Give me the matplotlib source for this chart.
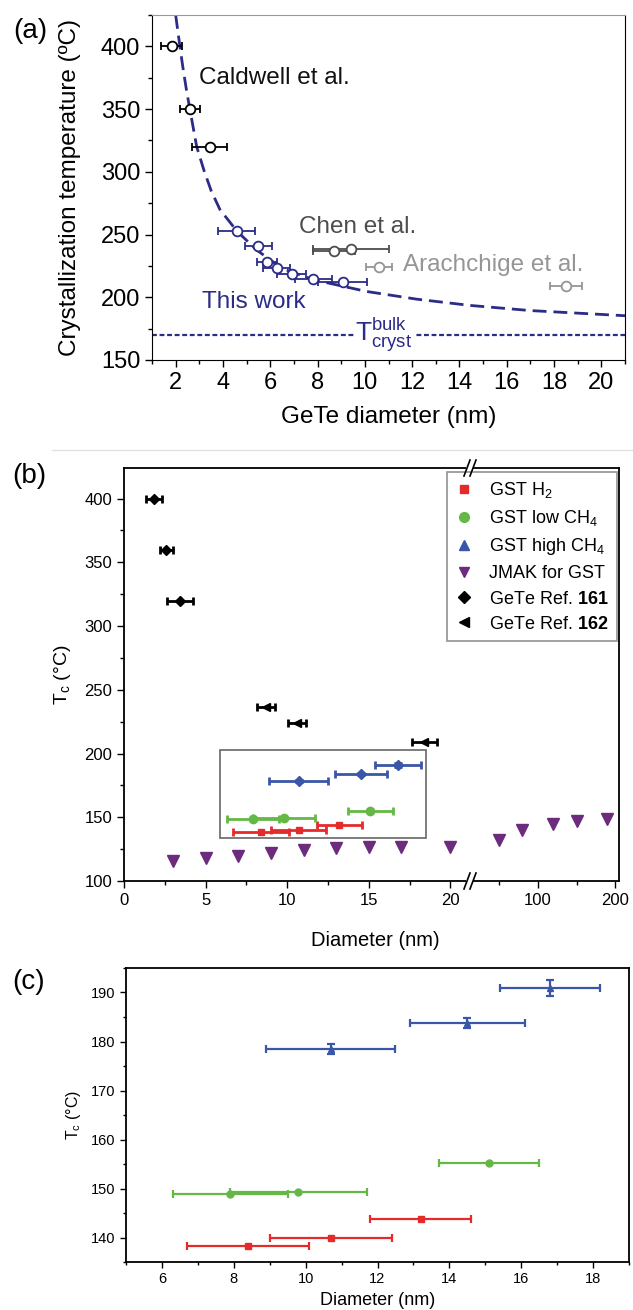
import numpy as np
import matplotlib
matplotlib.use("Agg")
import matplotlib.pyplot as plt
from matplotlib.lines import Line2D
from matplotlib.patches import Rectangle

plt.rcParams['font.family'] = ['Liberation Sans', 'DejaVu Sans']
plt.rcParams['mathtext.fontset'] = 'custom'
plt.rcParams['mathtext.rm'] = 'Liberation Sans'
plt.rcParams['mathtext.it'] = 'Liberation Sans:italic'
plt.rcParams['mathtext.bf'] = 'Liberation Sans:bold'

### Panel (a) data
cald_d = [1.83, 2.62, 3.45]
cald_T = [400, 350, 320]
cald_err = [0.45, 0.42, 0.74]
chen_d = [8.7, 9.4]
chen_T = [237, 238.5]
chen_err = [0.9, 1.6]
arach_d = [10.6, 18.5]
arach_T = [224.5, 209]
arach_err = [0.55, 0.67]
work_d = [4.58, 5.5, 5.85, 6.27, 6.9, 7.82, 9.06]
work_T = [253, 240.5, 228, 223, 218.7, 214.4, 212.5]
work_err = [0.78, 0.58, 0.43, 0.56, 0.63, 0.78, 1.02]
fit_d = [2.0, 2.18, 2.3, 2.45, 2.6, 2.89, 3.2, 3.5, 3.87, 4.58, 5.4, 6.5,
         7.82, 10.08, 12.19, 14.45, 17.0, 21.0]
fit_T = [425, 400, 384, 366, 350, 320, 301, 285, 270, 253, 238, 223,
         214, 204.6, 198.5, 193.5, 189.4, 185.3]
T_bulk = 170

### Panels (b) and (c) data
h2_d = [8.4, 10.7, 13.2]
h2_T = [138.3, 139.8, 143.8]
h2_err = [1.7, 1.7, 1.4]
low_d = [7.9, 9.8, 15.1]
low_T = [148.8, 149.2, 155.2]
low_err = [1.6, 1.9, 1.4]
high_d = [10.7, 14.5, 16.8]
high_T = [178.4, 183.8, 190.9]
high_err = [1.8, 1.6, 1.4]
high_Terr = [1.0, 1.0, 1.6]
jmak_d = [3, 5, 7, 9, 11, 13, 15, 17, 20, 50, 80, 120, 150, 190]
jmak_T = [116, 118, 120, 122, 124, 125.5, 126.5, 126.5, 126.5, 132, 140, 145, 147, 149]
ref161_d = [1.85, 2.6, 3.45]
ref161_T = [400, 360, 320]
ref161_err = [0.5, 0.4, 0.8]
ref162_d = [8.7, 10.6, 18.4]
ref162_T = [236.5, 224, 209]
ref162_err = [0.55, 0.55, 0.75]

navy = '#2b2b88'
red = '#e42b2b'
green = '#63b846'
blue = '#3a56a8'
purple = '#6c2b7c'

fig = plt.figure(figsize=(6.33, 13.1), dpi=100)
W, H = 633.0, 1310.0

def box(l, t, r, b):
    return [l / W, 1 - b / H, (r - l) / W, (b - t) / H]

# ---------------- (a)
ax = fig.add_axes(box(152, 15, 625, 360))
ax.plot(fit_d, fit_T, color=navy, lw=2, dashes=(5, 2.5), zorder=2)
ax.axhline(T_bulk, color=navy, lw=1.6, dashes=(2.2, 1.2), zorder=1)
ekw = dict(fmt='o', ms=7, mfc='white', mew=1.3, elinewidth=1.3, capsize=3, capthick=1.3, zorder=3)
ax.errorbar(cald_d, cald_T, xerr=cald_err, color='black', **ekw)
ax.errorbar(chen_d, chen_T, xerr=chen_err, color='#4d4d4d', **ekw)
ax.errorbar(arach_d, arach_T, xerr=arach_err, color='#959595', **ekw)
ax.errorbar(work_d, work_T, xerr=work_err, color=navy, **ekw)
ax.text(3.0, 375, 'Caldwell et al.', fontsize=17.5, color='#111111', va='center')
ax.text(7.2, 256, 'Chen et al.', fontsize=17.5, color='#4d4d4d', va='center')
ax.text(11.6, 226, 'Arachchige et al.', fontsize=17.5, color='#959595', va='center')
ax.text(3.1, 196, 'This work', fontsize=17.5, color=navy, va='center')
ax.text(10.8, 170, r'T$_{\rm cryst}^{\rm bulk}$', fontsize=19, color=navy, ha='center',
        va='center', bbox=dict(facecolor='white', edgecolor='none', pad=1), zorder=4)
ax.set_xlim(1, 21)
ax.set_ylim(150, 425)
ax.set_xticks(range(2, 21, 2))
ax.set_xticks(range(1, 22, 2), minor=True)
ax.set_yticks(range(150, 401, 50))
ax.set_yticks(range(175, 426, 50), minor=True)
ax.tick_params(labelsize=17, direction='out', length=5, width=1)
ax.tick_params(which='minor', direction='out', length=3, width=1)
ax.set_xlabel('GeTe diameter (nm)', fontsize=17.5, labelpad=9)
ax.set_ylabel('Crystallization temperature (ºC)', fontsize=17.5, labelpad=14)
ax.spines['top'].set_color('#999999')
fig.text(30 / W, 1 - 31 / H, '(a)', fontsize=20, ha='center', va='center')

# separator line
fig.add_artist(Line2D([52 / W, 1.0], [1 - 450 / H, 1 - 450 / H], color='#e2e2e2', lw=1))

# ---------------- (b)
axl = fig.add_axes(box(124, 468, 470, 881))
axr = fig.add_axes(box(470, 468, 619, 881))
bkw = dict(elinewidth=2, capsize=3, capthick=2, zorder=3)
axl.errorbar(h2_d, h2_T, xerr=h2_err, fmt='s', ms=5, color=red, **bkw)
axl.errorbar(low_d, low_T, xerr=low_err, fmt='o', ms=6, color=green, **bkw)
axl.errorbar(high_d, high_T, xerr=high_err, yerr=high_Terr, fmt='D', ms=5, color=blue, **bkw)
axl.errorbar(ref161_d, ref161_T, xerr=ref161_err, fmt='D', ms=5, color='black', **bkw)
axl.errorbar(ref162_d, ref162_T, xerr=ref162_err, fmt='<', ms=6, color='black', **bkw)
jd = np.array(jmak_d)
jT = np.array(jmak_T)
axl.plot(jd[jd <= 21], jT[jd <= 21], 'v', ms=9, color=purple, ls='none')
axr.plot(jd[jd > 21], jT[jd > 21], 'v', ms=9, color=purple, ls='none')
axl.add_patch(Rectangle((5.9, 133.5), 12.6, 69, fill=False, edgecolor='#666666', lw=1.2, zorder=2))
for a in (axl, axr):
    a.set_ylim(100, 424)
    a.tick_params(labelsize=12, direction='out', length=5, width=1)
    a.tick_params(which='minor', direction='out', length=3, width=1)
    for s in a.spines.values():
        s.set_linewidth(1.3)
axl.set_xlim(0, 21.2)
axl.set_xticks([0, 5, 10, 15, 20])
axl.set_xticks([2.5, 7.5, 12.5, 17.5], minor=True)
axl.set_yticks(range(100, 401, 50))
axl.set_yticks(range(125, 401, 50), minor=True)
axl.spines['right'].set_visible(False)
axr.set_xlim(12, 205)
axr.set_xticks([100, 200])
axr.set_xticks([50, 150], minor=True)
axr.set_yticks([])
axr.spines['left'].set_visible(False)
axl.set_ylabel(r'T$_{\rm c}$ (°C)', fontsize=14, labelpad=8)
fig.text(375 / W, 1 - 940 / H, 'Diameter (nm)', fontsize=14.5, ha='center', va='center')
fig.text(29 / W, 1 - 476 / H, '(b)', fontsize=20, ha='center', va='center')

# break marks
for yb in (468, 881):
    fig.add_artist(Rectangle(((466) / W, 1 - (yb + 2) / H), 7 / W, 4 / H,
                             facecolor='white', edgecolor='none', transform=fig.transFigure, zorder=6))
    for dx in (-3, 3):
        fig.add_artist(Line2D([(470 + dx - 3) / W, (470 + dx + 3) / W],
                              [1 - (yb + 8) / H, 1 - (yb - 8) / H],
                              color='black', lw=1.2, zorder=7))

handles = [
    Line2D([], [], marker='s', color=red, ls='none', ms=6),
    Line2D([], [], marker='o', color=green, ls='none', ms=7),
    Line2D([], [], marker='^', color=blue, ls='none', ms=7),
    Line2D([], [], marker='v', color=purple, ls='none', ms=7),
    Line2D([], [], marker='D', color='black', ls='none', ms=6),
    Line2D([], [], marker='<', color='black', ls='none', ms=7),
]
labels = ['GST H$_2$', 'GST low CH$_4$', 'GST high CH$_4$', 'JMAK for GST',
          r'GeTe Ref. $\mathbf{161}$', r'GeTe Ref. $\mathbf{162}$']
leg = fig.legend(handles, labels, loc='upper right', bbox_to_anchor=(617 / W, 1 - 472 / H),
                 fontsize=13, frameon=True, fancybox=False, edgecolor='#777777',
                 handlelength=1.0, handletextpad=0.9, labelspacing=0.45, borderpad=0.45,
                 borderaxespad=0)
leg.get_frame().set_linewidth(1.2)

# ---------------- (c)
axc = fig.add_axes(box(126, 968, 629, 1262))
ckw = dict(elinewidth=1.6, capsize=3, capthick=1.6)
axc.errorbar(h2_d, h2_T, xerr=h2_err, fmt='s', ms=5, color=red, **ckw)
axc.errorbar(low_d, low_T, xerr=low_err, fmt='o', ms=5, color=green, **ckw)
axc.errorbar(high_d, high_T, xerr=high_err, yerr=high_Terr, fmt='^', ms=5, color=blue, **ckw)
axc.set_xlim(5, 19)
axc.set_ylim(135, 195)
axc.set_xticks(range(6, 19, 2))
axc.set_xticks(range(5, 20), minor=True)
axc.set_yticks(range(140, 191, 10))
axc.set_yticks(range(135, 196, 5), minor=True)
axc.tick_params(labelsize=10.5, direction='out', length=4, width=1)
axc.tick_params(which='minor', direction='out', length=2.5, width=1)
for s in axc.spines.values():
    s.set_linewidth(1.3)
axc.set_xlabel('Diameter (nm)', fontsize=13, labelpad=4)
axc.set_ylabel(r'T$_{\rm c}$ (°C)', fontsize=11.5, labelpad=6)
fig.text(29 / W, 1 - 982 / H, '(c)', fontsize=20, ha='center', va='center')

fig.savefig('out.png', dpi=100)
